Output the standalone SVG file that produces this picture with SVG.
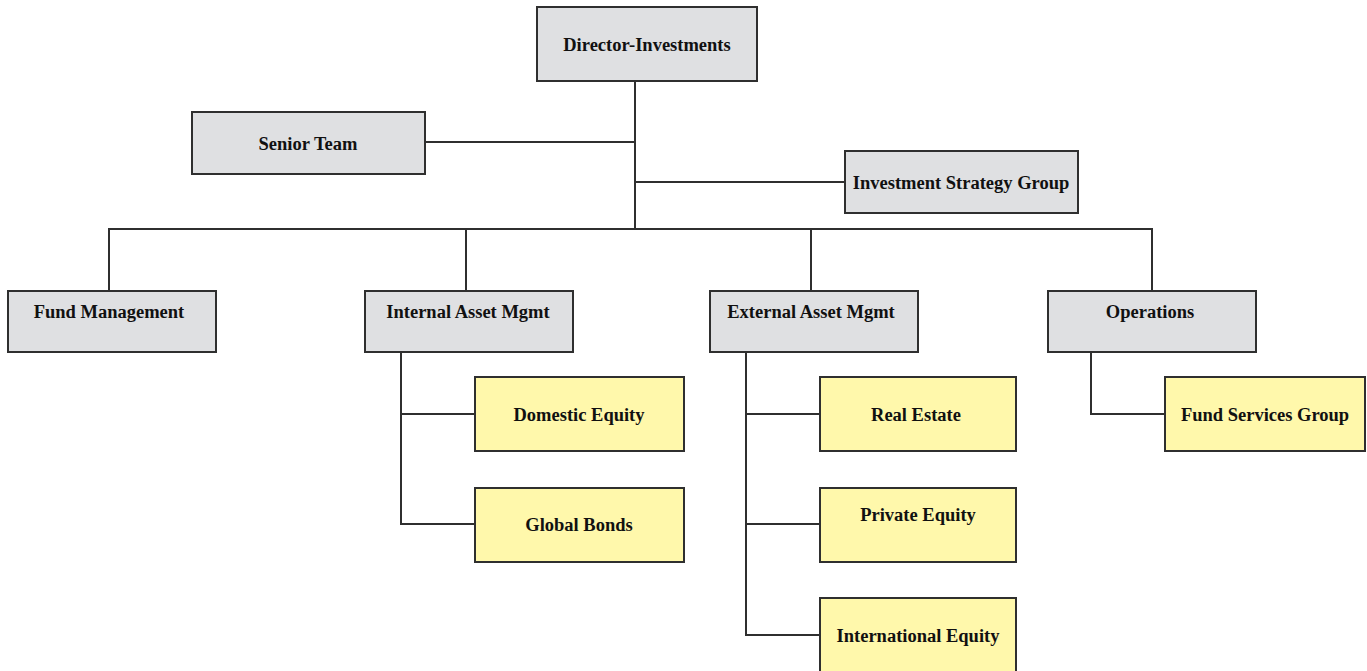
<svg xmlns="http://www.w3.org/2000/svg" width="1367" height="671" viewBox="0 0 1367 671">
  <style>
    .box rect { stroke: #2f2f2f; stroke-width: 2; }
    .unit rect { fill: #dfe0e2; }
    .team rect { fill: #fff8ab; }
    .box text { font-family: "Liberation Serif", "Times New Roman", serif; font-weight: bold; font-size: 18.5px; fill: #111; text-anchor: middle; }
    #connectors path { fill: none; stroke: #2f2f2f; stroke-width: 2; }
  </style>
  <rect width="1367" height="671" fill="#ffffff"/>

  <g id="connectors">
    <path d="M635 81 V229"/>
    <path d="M425 142 H635"/>
    <path d="M635 182 H845"/>
    <path d="M109 291 V229 H1152 V291"/>
    <path d="M466 229 V291"/>
    <path d="M811 229 V291"/>
    <path d="M401 352 V524 H475"/>
    <path d="M401 414 H475"/>
    <path d="M746 352 V635 H820"/>
    <path d="M746 414 H820"/>
    <path d="M746 524 H820"/>
    <path d="M1091 352 V414 H1165"/>
  </g>

  <g id="director" class="box unit">
    <rect x="537" y="7" width="220" height="74"/>
    <text x="647" y="51">Director-Investments</text>
  </g>
  <g id="senior-team" class="box unit">
    <rect x="192" y="112" width="233" height="62"/>
    <text x="308" y="150">Senior Team</text>
  </g>
  <g id="investment-strategy" class="box unit">
    <rect x="845" y="151" width="233" height="62"/>
    <text x="961" y="189">Investment Strategy Group</text>
  </g>

  <g id="fund-management" class="box unit">
    <rect x="8" y="291" width="208" height="61"/>
    <text x="109" y="318">Fund Management</text>
  </g>
  <g id="internal-asset" class="box unit">
    <rect x="365" y="291" width="208" height="61"/>
    <text x="468" y="318">Internal Asset Mgmt</text>
  </g>
  <g id="external-asset" class="box unit">
    <rect x="710" y="291" width="208" height="61"/>
    <text x="811" y="318">External Asset Mgmt</text>
  </g>
  <g id="operations" class="box unit">
    <rect x="1048" y="291" width="208" height="61"/>
    <text x="1150" y="318">Operations</text>
  </g>

  <g id="domestic-equity" class="box team">
    <rect x="475" y="377" width="209" height="74"/>
    <text x="579" y="421">Domestic Equity</text>
  </g>
  <g id="global-bonds" class="box team">
    <rect x="475" y="488" width="209" height="74"/>
    <text x="579" y="531">Global Bonds</text>
  </g>

  <g id="real-estate" class="box team">
    <rect x="820" y="377" width="196" height="74"/>
    <text x="916" y="421">Real Estate</text>
  </g>
  <g id="private-equity" class="box team">
    <rect x="820" y="488" width="196" height="74"/>
    <text x="918" y="521">Private Equity</text>
  </g>
  <g id="international-equity" class="box team">
    <rect x="820" y="598" width="196" height="80"/>
    <text x="918" y="642">International Equity</text>
  </g>

  <g id="fund-services" class="box team">
    <rect x="1165" y="377" width="200" height="74"/>
    <text x="1265" y="421">Fund Services Group</text>
  </g>
</svg>
